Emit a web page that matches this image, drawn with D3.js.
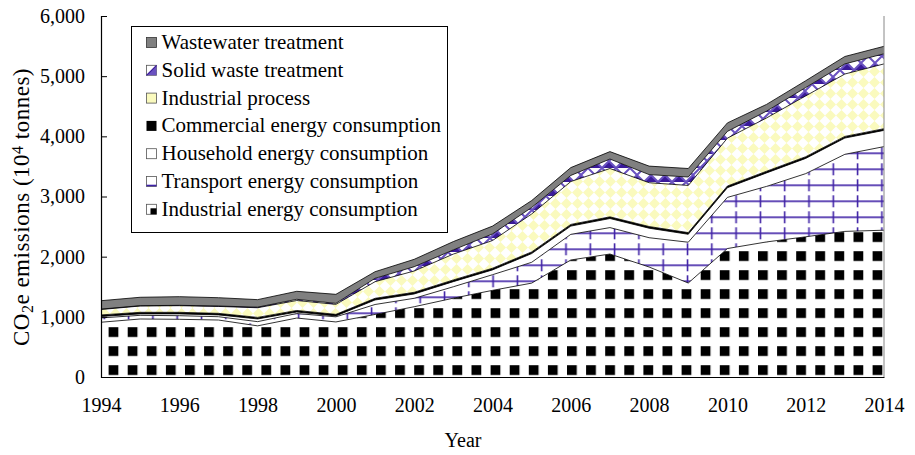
<!DOCTYPE html>
<html>
<head>
<meta charset="utf-8">
<script src="https://cdn.jsdelivr.net/npm/d3@7"></script>
<style>
  body { margin: 0; background: #fff; }
  svg { display: block; }
  text { font-family: "Liberation Serif", "Times New Roman", serif; fill: #000; }
</style>
</head>
<body>
<svg id="chart" width="915" height="455"></svg>
<script>
// values in 10^4 tonnes CO2e
const years = [1994, 1995, 1996, 1997, 1998, 1999, 2000, 2001, 2002, 2003, 2004,
               2005, 2006, 2007, 2008, 2009, 2010, 2011, 2012, 2013, 2014];
const industrialEnergy = [910, 964, 959, 947, 850, 980, 915, 1040, 1168, 1310, 1440,
                          1560, 1945, 2044, 1828, 1562, 2135, 2245, 2330, 2420, 2440];
const transportEnergy = [72, 61, 60, 55, 70, 75, 85, 165, 140, 190, 260,
                         346, 426, 439, 487, 678, 850, 923, 1050, 1281, 1389];
const householdEnergy = [24, 24, 30, 30, 45, 25, 15, 75, 72, 85, 80,
                         145, 137, 151, 158, 132, 161, 224, 253, 270, 270];
const commercialEnergy = [26, 26, 26, 26, 26, 26, 26, 28, 28, 28, 28,
                          28, 28, 28, 28, 28, 28, 28, 28, 28, 28];
const industrialProcess = [90, 105, 110, 115, 160, 165, 166, 276, 354, 430, 460,
                           630, 713, 803, 728, 784, 796, 886, 1011, 1037, 1077];
const solidWaste = [6, 5, 6, 7, 10, 20, 17, 56, 71, 70, 110,
                    108, 101, 158, 135, 140, 112, 113, 139, 168, 168];
const wastewater = [140, 140, 144, 138, 125, 133, 150, 110, 123, 138, 130,
                    115, 130, 123, 141, 141, 141, 112, 113, 123, 124];

const yTicks = [0, 1000, 2000, 3000, 4000, 5000, 6000];
const xTicks = [1994, 1996, 1998, 2000, 2002, 2004, 2006, 2008, 2010, 2012, 2014];

// series, bottom of the stack first
const series = [
  {key: 'industrial', name: 'Industrial energy consumption', values: industrialEnergy},
  {key: 'transport', name: 'Transport energy consumption', values: transportEnergy},
  {key: 'household', name: 'Household energy consumption', values: householdEnergy},
  {key: 'commercial', name: 'Commercial energy consumption', values: commercialEnergy},
  {key: 'process', name: 'Industrial process', values: industrialProcess},
  {key: 'solid', name: 'Solid waste treatment', values: solidWaste},
  {key: 'water', name: 'Wastewater treatment', values: wastewater}
];

let rows = years.map(function(y, i){
  let r = {year: y};
  series.forEach(function(s){ r[s.key] = s.values[i]; });
  return r;
});

let width = 915, height = 455;
let margin = {left: 101, right: 31, top: 16, bottom: 78};

let xScale = d3.scaleLinear()
  .domain([1994, 2014])
  .range([margin.left, width - margin.right]);
let yScale = d3.scaleLinear()
  .domain([0, 6000])
  .range([height - margin.bottom, margin.top]);

let svg = d3.select('#chart');
let defs = svg.append('defs');
let purple = '#3f22a6';

// industrial energy: black squares on white
let pInd = defs.append('pattern')
  .attr('id', 'pat-industrial')
  .attr('patternUnits', 'userSpaceOnUse')
  .attr('width', 19.1).attr('height', 19)
  .attr('x', 605.2).attr('y', 365.2);
pInd.append('rect').attr('width', 19.1).attr('height', 19).attr('fill', '#fff');
pInd.append('rect').attr('x', -0.3).attr('y', -0.3).attr('width', 10.2).attr('height', 10.2).attr('fill', '#777');
pInd.append('rect').attr('width', 9.6).attr('height', 9.6).attr('fill', '#000');

// transport: purple grid, solid horizontals and dashed verticals
let pTr = defs.append('pattern')
  .attr('id', 'pat-transport')
  .attr('patternUnits', 'userSpaceOnUse')
  .attr('width', 24.3).attr('height', 16)
  .attr('x', 651).attr('y', 225.3);
pTr.append('rect').attr('width', 24.3).attr('height', 16).attr('fill', '#fff');
pTr.append('line').attr('x1', 0).attr('x2', 24.3).attr('y1', 8).attr('y2', 8)
  .attr('stroke', purple).attr('stroke-width', 1.6);
pTr.append('line').attr('x1', 12.2).attr('x2', 12.2).attr('y1', 2).attr('y2', 14)
  .attr('stroke', purple).attr('stroke-width', 1.6);

// industrial process: pale yellow diamonds
let pPr = defs.append('pattern')
  .attr('id', 'pat-process')
  .attr('patternUnits', 'userSpaceOnUse')
  .attr('width', 11).attr('height', 11);
pPr.append('rect').attr('width', 11).attr('height', 11).attr('fill', '#fff');
pPr.append('polygon').attr('points', '5.5,0 11,5.5 5.5,11 0,5.5').attr('fill', '#fafabe');

// solid waste: purple diagonal lattice
let pSw = defs.append('pattern')
  .attr('id', 'pat-solid')
  .attr('patternUnits', 'userSpaceOnUse')
  .attr('width', 14).attr('height', 14);
pSw.append('rect').attr('width', 14).attr('height', 14).attr('fill', '#fff');
pSw.append('polygon').attr('points', '7,7 14,14 0,14').attr('fill', '#3a1a9a');
pSw.append('path').attr('d', 'M0,14 L14,0 M0,0 L14,14')
  .attr('stroke', '#6a52c0').attr('stroke-width', 2);

let fills = {
  industrial: 'url(#pat-industrial)',
  transport: 'url(#pat-transport)',
  household: '#fff',
  commercial: '#000',
  process: 'url(#pat-process)',
  solid: 'url(#pat-solid)',
  water: '#808080'
};

let stack = d3.stack().keys(series.map(d => d.key));
let stacked = stack(rows);

let area = d3.area()
  .x(d => xScale(d.data.year))
  .y0(d => yScale(d[0]))
  .y1(d => yScale(d[1]));
let topLine = d3.line()
  .x(d => xScale(d.data.year))
  .y(d => yScale(d[1]));

svg.append('g').selectAll('.layer')
  .data(stacked)
  .enter()
  .append('path')
  .attr('class', 'layer')
  .attr('d', area)
  .attr('fill', d => fills[d.key]);

svg.append('g').selectAll('.edge')
  .data(stacked)
  .enter()
  .append('path')
  .attr('class', 'edge')
  .attr('d', topLine)
  .attr('fill', 'none')
  .attr('stroke', '#000')
  .attr('stroke-width', 0.8);

// right border of plot
svg.append('line')
  .attr('x1', xScale(2014)).attr('x2', xScale(2014))
  .attr('y1', yScale(6000)).attr('y2', yScale(0))
  .attr('stroke', '#888').attr('stroke-width', 1);

// axes
let yAxis = d3.axisLeft(yScale)
  .tickValues(yTicks)
  .tickSize(-6)
  .tickPadding(16)
  .tickFormat(d3.format(','));
let gy = svg.append('g')
  .attr('transform', 'translate(' + margin.left + ',0)')
  .call(yAxis);
gy.select('.domain').attr('stroke', '#000').attr('stroke-width', 1.2);
gy.selectAll('.tick line').attr('stroke', '#000');
gy.selectAll('text').style('font-size', '20px')
  .style('font-family', '"Liberation Serif", serif');

let xAxis = d3.axisBottom(xScale)
  .tickValues(xTicks)
  .tickSize(0)
  .tickPadding(21)
  .tickFormat(d3.format('d'));
let gx = svg.append('g')
  .attr('transform', 'translate(0,' + (height - margin.bottom) + ')')
  .call(xAxis);
gx.select('.domain').attr('stroke', '#000').attr('stroke-width', 1.2);
gx.selectAll('text').style('font-size', '20px')
  .style('font-family', '"Liberation Serif", serif');

// axis titles
svg.append('text')
  .attr('x', 463).attr('y', 447)
  .attr('text-anchor', 'middle')
  .style('font-size', '20px')
  .text('Year');

let yTitle = svg.append('text')
  .attr('transform', 'translate(29,207) rotate(-90)')
  .attr('text-anchor', 'middle')
  .style('font-size', '23px')
  .style('letter-spacing', '0.5px');
yTitle.append('tspan').text('CO');
yTitle.append('tspan').attr('baseline-shift', '-25%').style('font-size', '16px').text('2');
yTitle.append('tspan').text('e emissions (10');
yTitle.append('tspan').attr('baseline-shift', '40%').style('font-size', '16px').text('4');
yTitle.append('tspan').text(' tonnes)');

// legend
let legend = svg.append('g').attr('transform', 'translate(131.5,26.5)');
legend.append('rect')
  .attr('width', 316).attr('height', 206)
  .attr('fill', '#fff').attr('stroke', '#000').attr('stroke-width', 1);

let legendItems = series.slice().reverse();
let item = legend.selectAll('.item')
  .data(legendItems)
  .enter()
  .append('g')
  .attr('class', 'item')
  .attr('transform', (d, i) => 'translate(15,' + (16 + i * 27.8) + ')');

item.each(function(d){
  let g = d3.select(this);
  let box = g.append('g').attr('transform', 'translate(0,-5)');
  if (d.key == 'water') {
    box.append('rect').attr('width', 10).attr('height', 10).attr('fill', '#808080')
      .attr('stroke', '#333').attr('stroke-width', 0.8);
  } else if (d.key == 'solid') {
    box.append('rect').attr('width', 10).attr('height', 10).attr('fill', '#fff')
      .attr('stroke', '#555').attr('stroke-width', 0.8);
    box.append('polygon').attr('points', '10,0 10,10 0,10').attr('fill', '#6a52c0');
    box.append('line').attr('x1', 0).attr('y1', 10).attr('x2', 10).attr('y2', 0)
      .attr('stroke', '#3a1a9a').attr('stroke-width', 1.2);
  } else if (d.key == 'process') {
    box.append('rect').attr('width', 10).attr('height', 10).attr('fill', '#fafabe')
      .attr('stroke', '#555').attr('stroke-width', 0.8);
  } else if (d.key == 'commercial') {
    box.append('rect').attr('width', 10).attr('height', 10).attr('fill', '#000');
  } else if (d.key == 'household') {
    box.append('rect').attr('width', 10).attr('height', 10).attr('fill', '#fff')
      .attr('stroke', '#555').attr('stroke-width', 0.8);
  } else if (d.key == 'transport') {
    box.append('rect').attr('width', 10).attr('height', 10).attr('fill', '#fff')
      .attr('stroke', '#555').attr('stroke-width', 0.8);
    box.append('line').attr('x1', 0).attr('x2', 10).attr('y1', 9).attr('y2', 9)
      .attr('stroke', purple).attr('stroke-width', 1.6);
  } else {
    box.append('rect').attr('width', 10).attr('height', 10).attr('fill', '#fff')
      .attr('stroke', '#555').attr('stroke-width', 0.8);
    box.append('rect').attr('x', 4).attr('y', 4).attr('width', 6).attr('height', 6).attr('fill', '#000');
  }
  g.append('text')
    .attr('x', 15).attr('y', 6.5)
    .style('font-size', '21px')
    .text(d.name);
});
</script>
</body>
</html>
